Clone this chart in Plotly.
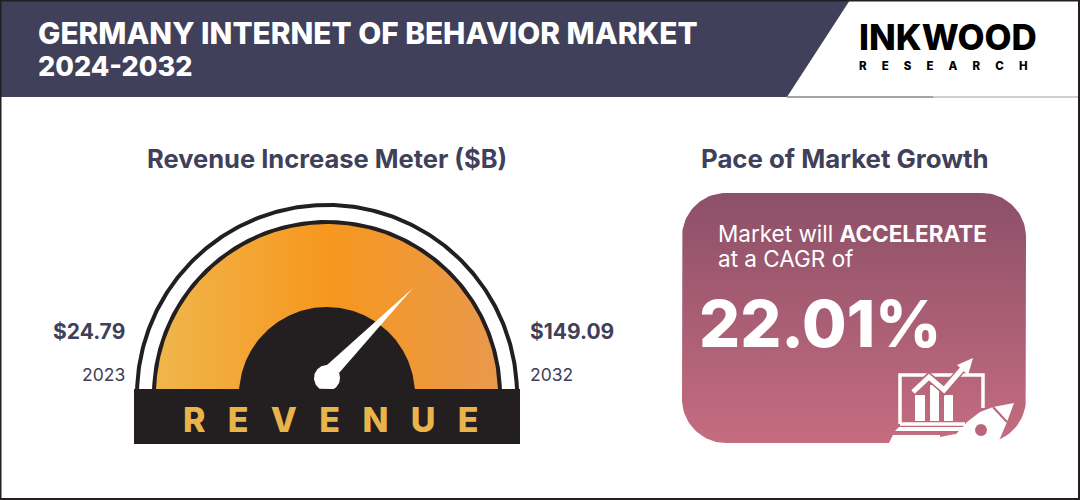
import numpy as np
import plotly.graph_objects as go

# values shown on the graphic
title_lines = ["GERMANY INTERNET OF BEHAVIOR MARKET", "2024-2032"]
meter_title = "Revenue Increase Meter ($B)"
pace_title = "Pace of Market Growth"
start_year = "2023"
end_year = "2032"
start_revenue = 24.79
end_revenue = 149.09
cagr = 22.01

DARK = "#231f20"
SLATE = "#40405a"
ICON_BG = "#b9657a"
FONT = "Inter"
NB = "\u00a0"
CX, CY, BASE = 327, 395, 389

fig = go.Figure()


def poly(xs, ys, color, gradient=None):
    # filled outline, drawn in pixel coordinates of the page
    kw = dict(fillgradient=gradient) if gradient else dict(fillcolor=color)
    fig.add_trace(go.Scatter(x=list(xs), y=list(ys), mode="lines", fill="toself",
                             line=dict(width=0), hoverinfo="skip", showlegend=False, **kw))


def stroke(xs, ys, color="white", width=3):
    fig.add_trace(go.Scatter(x=list(xs), y=list(ys), mode="lines",
                             line=dict(color=color, width=width), hoverinfo="skip", showlegend=False))


def half_disc(r, color, gradient=None):
    a = np.linspace(0, np.pi, 181)
    poly(CX + r * np.cos(a), np.minimum(CY - r * np.sin(a), BASE), color, gradient)


def disc(x, y, r, color, ymax=None):
    a = np.linspace(0, 2 * np.pi, 91)
    yy = y + r * np.sin(a)
    poly(x + r * np.cos(a), yy if ymax is None else np.minimum(yy, ymax), color)


def rounded(x0, y0, x1, y1, r, color, gradient=None):
    a = np.linspace(0, np.pi / 2, 25)
    xs = np.concatenate([x1 - r + r * np.sin(a), x1 - r + r * np.cos(a), x0 + r - r * np.sin(a), x0 + r - r * np.cos(a)])
    ys = np.concatenate([y0 + r - r * np.cos(a), y1 - r + r * np.sin(a), y1 - r + r * np.cos(a), y0 + r - r * np.sin(a)])
    poly(xs, ys, color, gradient)


def label(x, y, text, size, color, weight=400, anchor="left"):
    fig.add_annotation(x=x, y=y, text=text, showarrow=False, xanchor=anchor, yanchor="middle",
                       font=dict(family=FONT, size=size, color=color, weight=weight))


# page and header
poly([0, 1080, 1080, 0], [0, 0, 500, 500], "white")
poly([0, 850, 787, 0], [0, 0, 97, 97], SLATE)
stroke([787, 933], [97, 97], "#a3a3a8", 2)
stroke([933, 1080], [97, 97], "#cfcfd3", 2)

# gauge
half_disc(192, DARK)
half_disc(188, "white")
half_disc(175, DARK)
half_disc(171, "#f7971e", go.scatter.Fillgradient(
    type="horizontal",
    colorscale=[[0, "#efb64c"], [0.5, "#f7971e"], [1, "#e9994c"]]))
half_disc(88, DARK)
poly([327, 413, 339], [365, 288, 373], "white")
disc(327, 378, 13, "white", ymax=BASE)
poly([134, 520, 520, 134], [389, 389, 444, 444], DARK)

# growth panel
rounded(682, 193, 1026, 443, 44, "#a55c72", go.scatter.Fillgradient(
    type="vertical",
    colorscale=[[0, "#c56c80"], [1, "#8c5068"]]))

# laptop frame and base
stroke([900, 900, 983, 983], [424, 375, 375, 408], "white", 3.5)
stroke([900, 965], [424, 424], "white", 3.5)
poly([899, 966, 966, 895], [427, 427, 431, 431], "white")
poly([893, 940, 940, 889], [435, 435, 443, 443], "white")
# bars behind the arrow
for x0, x1, top in [(915, 925, 395), (930, 939, 385), (944, 953, 395)]:
    poly([x0, x1, x1, x0], [top, top, 421, 421], "white")
# arrow with a thin halo
arrow_x = [913, 929, 944, 963]
arrow_y = [392, 377, 390, 368]
stroke(arrow_x, arrow_y, ICON_BG, 8)
stroke(arrow_x, arrow_y, "white", 5)
poly([973, 957, 968], [358, 365, 375], "white")
# rocket
poly([935, 955, 957, 936], [438, 434, 443, 443], "white")
poly([950, 953, 962, 967, 980, 993, 1014, 1007, 998], [443, 437, 428, 422, 412, 407, 403, 422, 443], "white")
stroke([993, 1007], [407, 422], ICON_BG, 2)
disc(981, 430, 6, ICON_BG)

# text
label(35.5, 33, title_lines[0], 29.8, "white", 800)
label(36, 66, title_lines[1], 27, "white", 800)
label(327, 158, meter_title, 25.5, SLATE, 700, "center")
label(845, 158, pace_title, 25.8, SLATE, 700, "center")
label(127, 331, f"${start_revenue}", 21, SLATE, 700, "right")
label(127, 374, start_year, 17.5, SLATE, 400, "right")
label(528, 331, f"${end_revenue}", 21, SLATE, 700)
label(528, 374, end_year, 17.5, SLATE, 400)
label(331, 419, (NB * 3).join("REVENUE"), 34, "#e9b54a", 800, "center")
label(716, 233, "Market will <b>ACCELERATE</b>", 22.5, "white")
label(716, 258, "at a CAGR of", 22.5, "white")
label(697, 324, f"{cagr}%", 64.5, "white", 800)
label(857, 36.5, "INKWOOD", 35, "black", 800)
label(857, 65.5, (NB * 6).join("RESEARCH"), 11.5, "black", 800)

# outer frame
fig.add_shape(type="rect", x0=0.5, y0=0.5, x1=1079, y1=499, line=dict(color=DARK, width=2))

fig.update_xaxes(range=[0, 1080], visible=False, fixedrange=True)
fig.update_yaxes(range=[500, 0], visible=False, fixedrange=True)
fig.update_layout(width=1080, height=500, margin=dict(l=0, r=0, t=0, b=0),
                  paper_bgcolor="white", plot_bgcolor="white", showlegend=False)
fig.write_html("out.html", config=dict(displayModeBar=False),
               post_script="document.body.style.margin='0';")
